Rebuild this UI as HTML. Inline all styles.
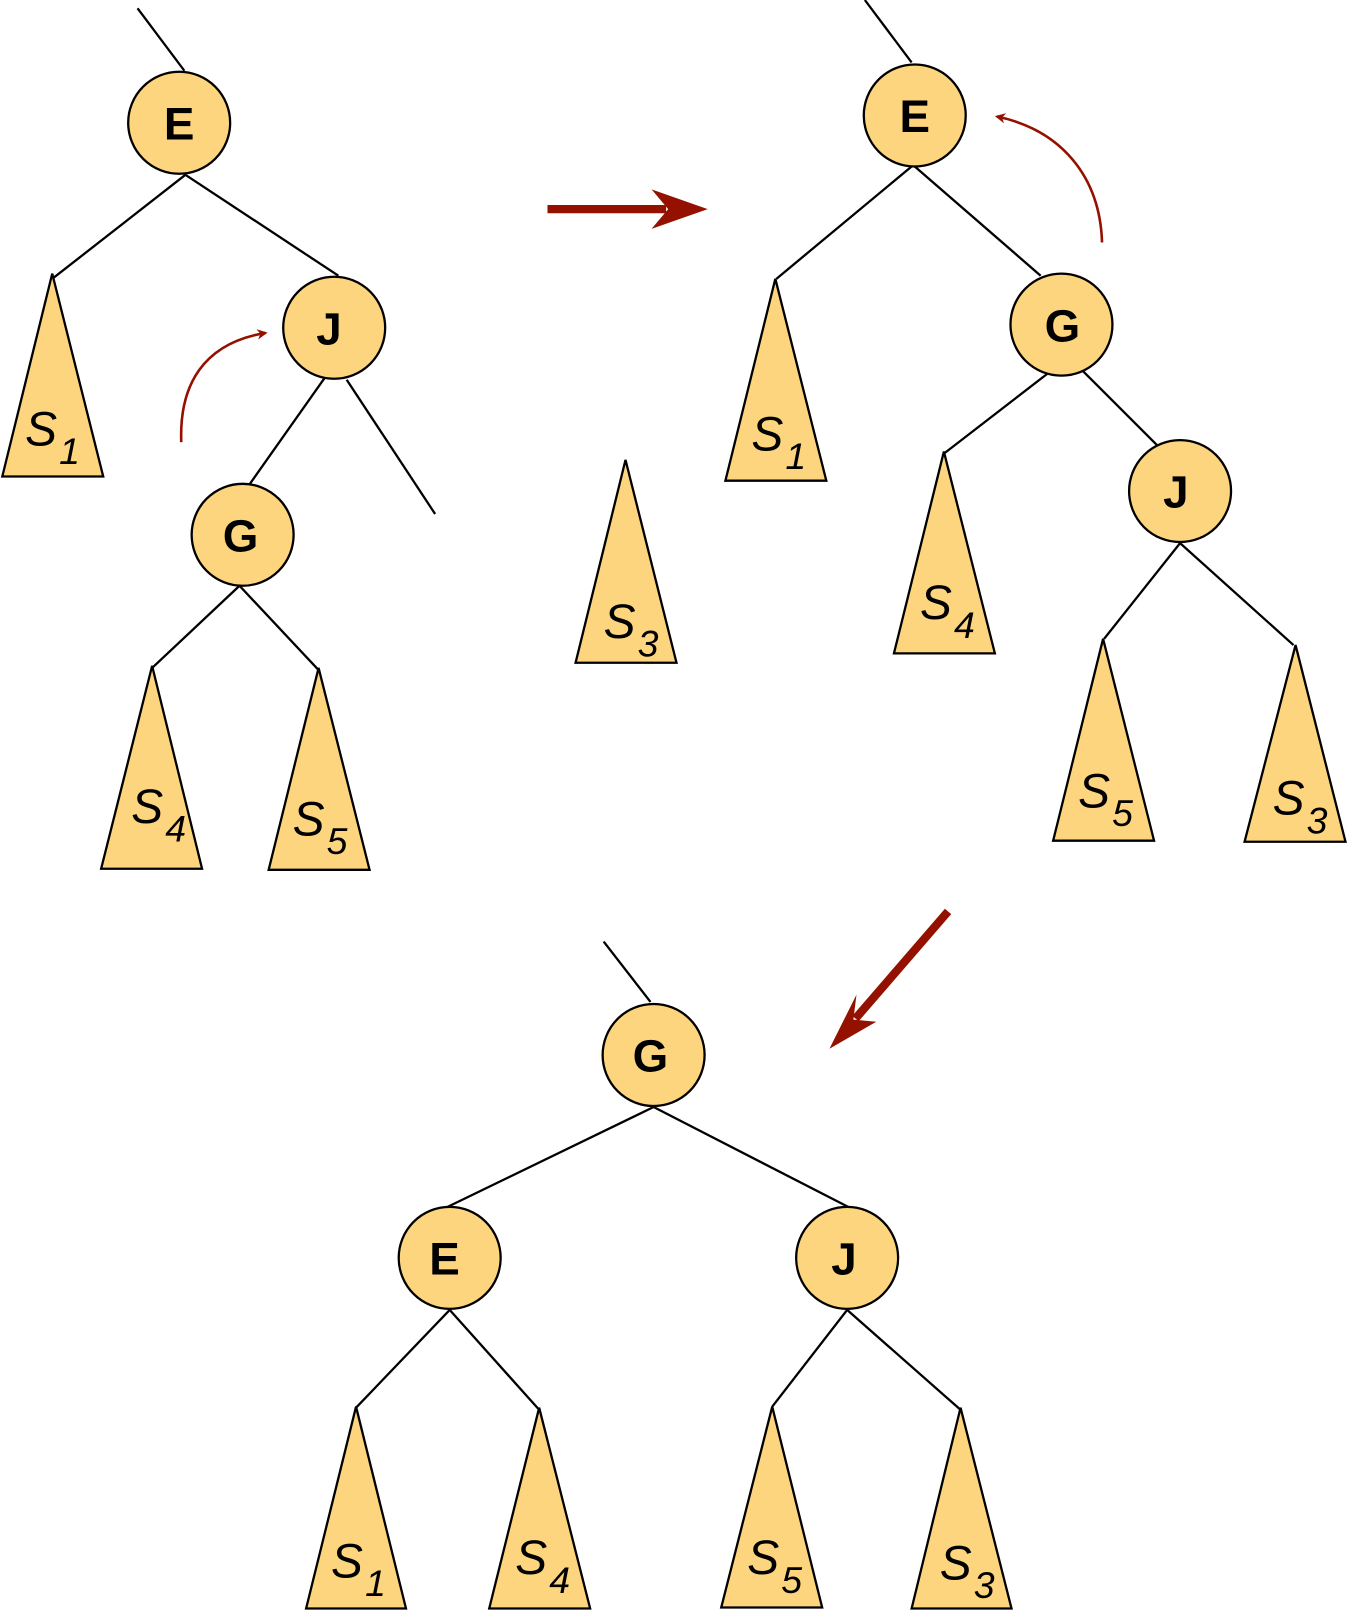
<!DOCTYPE html>
<html><head><meta charset="utf-8"><style>
html,body{margin:0;padding:0;background:#fff;}
svg{display:block;}
.n{fill:#fdd57e;stroke:#000;stroke-width:2.2;}
.l{stroke:#000;stroke-width:2.2;fill:none;}
.t{fill:#fdd57e;stroke:#000;stroke-width:2.2;stroke-linejoin:miter;}
.k{font-family:"Liberation Sans",sans-serif;font-weight:bold;font-size:44px;text-anchor:middle;}
.s{font-family:"Liberation Sans",sans-serif;font-style:italic;font-size:46px;}
.b{font-size:36px;}
</style></head><body>
<svg width="1353" height="1621" viewBox="0 0 1300 1558" xmlns="http://www.w3.org/2000/svg">
<defs>
<marker id="ah" markerWidth="10" markerHeight="10" refX="8" refY="5" orient="auto" markerUnits="userSpaceOnUse">
<path d="M0,0 L10,5 L0,10 L3,5 Z" fill="#941100"/></marker>
</defs>
<g class="l">
<line x1="132" y1="8" x2="177" y2="68"/>
<line x1="178" y1="168" x2="50" y2="268"/>
<line x1="178" y1="168" x2="325" y2="265"/>
<line x1="312" y1="363" x2="240" y2="465"/>
<line x1="333" y1="365" x2="418" y2="494"/>
<line x1="230" y1="563" x2="146" y2="642"/>
<line x1="230" y1="563" x2="306" y2="644"/>
</g>
<polygon class="t" points="50,263 2,458 99,458"/>
<polygon class="t" points="146,640 97,835 194,835"/>
<polygon class="t" points="306,642 258,836 355,836"/>
<circle class="n" cx="172" cy="118" r="49"/>
<circle class="n" cx="321" cy="315" r="49"/>
<circle class="n" cx="233" cy="514" r="49"/>
<text class="k" x="172" y="134">E</text>
<text class="k" x="316" y="331">J</text>
<text class="k" x="231" y="530">G</text>
<text class="s" x="24" y="428">S<tspan class="b" dx="2" dy="18">1</tspan></text>
<text class="s" x="126" y="791">S<tspan class="b" dx="2" dy="18">4</tspan></text>
<text class="s" x="281" y="803">S<tspan class="b" dx="2" dy="18">5</tspan></text>
<path d="M174,425 C172,370 195,330 255,320" stroke="#941100" stroke-width="2.5" fill="none" marker-end="url(#ah)"/>
<line x1="526" y1="201" x2="640" y2="201" stroke="#941100" stroke-width="8"/>
<path d="M680,201 L626,182 L642,201 L626,220 Z" fill="#941100"/>
<polygon class="t" points="601,442 553,637 650,637"/>
<text class="s" x="580" y="613">S<tspan class="b" dx="2" dy="18">3</tspan></text>
<g class="l">
<line x1="831" y1="0" x2="876" y2="60"/>
<line x1="876" y1="160" x2="746" y2="268"/>
<line x1="879" y1="160" x2="1000" y2="265"/>
<line x1="1008" y1="358" x2="907" y2="436"/>
<line x1="1040" y1="356" x2="1112" y2="428"/>
<line x1="1134" y1="522" x2="1061" y2="614"/>
<line x1="1134" y1="522" x2="1243" y2="620"/>
</g>
<polygon class="t" points="745,268 697,462 794,462"/>
<polygon class="t" points="907,434 859,628 956,628"/>
<polygon class="t" points="1060,614 1012,808 1109,808"/>
<polygon class="t" points="1245,620 1196,809 1293,809"/>
<circle class="n" cx="879" cy="111" r="49"/>
<circle class="n" cx="1020" cy="312" r="49"/>
<circle class="n" cx="1134" cy="472" r="49"/>
<text class="k" x="879" y="127">E</text>
<text class="k" x="1021" y="328">G</text>
<text class="k" x="1130" y="488">J</text>
<text class="s" x="722" y="433">S<tspan class="b" dx="2" dy="18">1</tspan></text>
<text class="s" x="884" y="595">S<tspan class="b" dx="2" dy="18">4</tspan></text>
<text class="s" x="1036" y="776">S<tspan class="b" dx="2" dy="18">5</tspan></text>
<text class="s" x="1223" y="783">S<tspan class="b" dx="2" dy="18">3</tspan></text>
<path d="M1059,233 C1057,170 1020,125 958,112" stroke="#941100" stroke-width="2.5" fill="none" marker-end="url(#ah)"/>
<line x1="911" y1="876" x2="822" y2="979" stroke="#941100" stroke-width="8"/>
<path d="M797,1008 L842,982 L820,980 L823,956 Z" fill="#941100"/>
<g class="l">
<line x1="580" y1="905" x2="625" y2="963"/>
<line x1="628" y1="1064" x2="430" y2="1160"/>
<line x1="628" y1="1064" x2="815" y2="1160"/>
<line x1="432" y1="1259" x2="342" y2="1353"/>
<line x1="432" y1="1259" x2="518" y2="1355"/>
<line x1="814" y1="1259" x2="742" y2="1352"/>
<line x1="814" y1="1259" x2="923" y2="1355"/>
</g>
<polygon class="t" points="342,1352 294,1546 390,1546"/>
<polygon class="t" points="518,1353 470,1546 567,1546"/>
<polygon class="t" points="742,1352 693,1545 790,1545"/>
<polygon class="t" points="923,1353 876,1546 972,1546"/>
<circle class="n" cx="628" cy="1014" r="49"/>
<circle class="n" cx="432" cy="1209" r="49"/>
<circle class="n" cx="814" cy="1209" r="49"/>
<text class="k" x="625" y="1030">G</text>
<text class="k" x="427" y="1225">E</text>
<text class="k" x="811" y="1225">J</text>
<text class="s" x="318" y="1516">S<tspan class="b" dx="2" dy="18">1</tspan></text>
<text class="s" x="495" y="1513">S<tspan class="b" dx="2" dy="18">4</tspan></text>
<text class="s" x="718" y="1513">S<tspan class="b" dx="2" dy="18">5</tspan></text>
<text class="s" x="903" y="1518">S<tspan class="b" dx="2" dy="18">3</tspan></text>
</svg>
</body></html>
